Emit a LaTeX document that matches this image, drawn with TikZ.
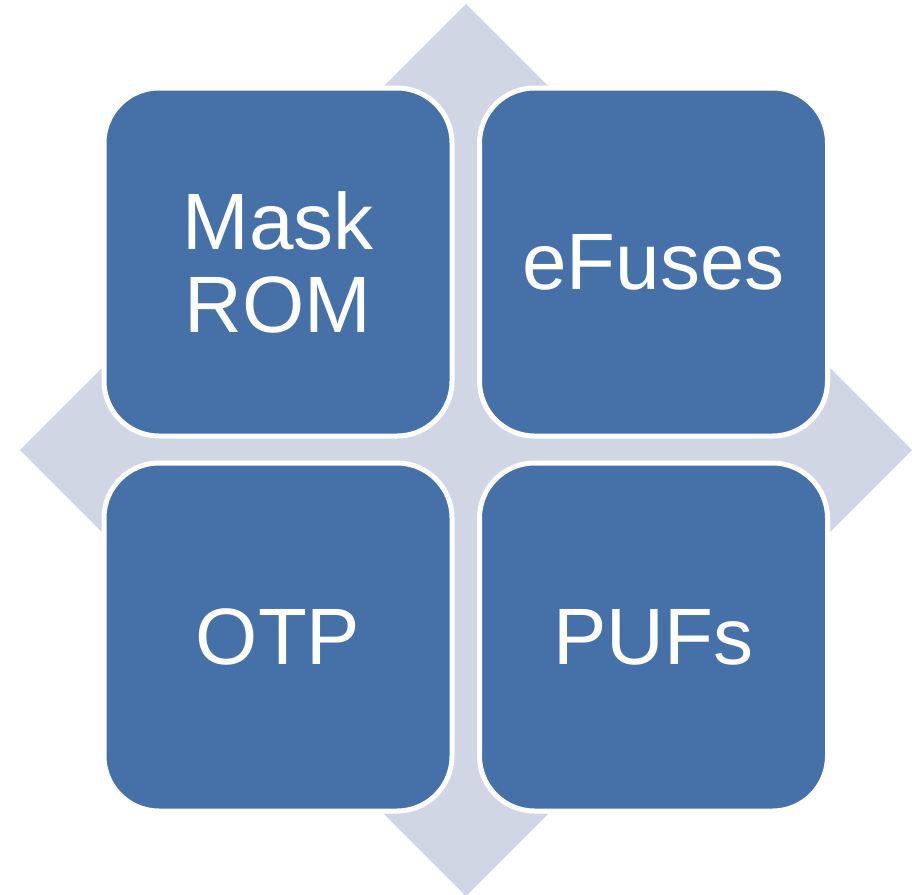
\documentclass[tikz,border=0pt]{standalone}
\usepackage{fontspec}
\setmainfont{Liberation Sans}
\definecolor{boxblue}{RGB}{69,113,168}
\definecolor{backgrey}{RGB}{208,214,228}

\begin{document}
\begin{tikzpicture}[x=1pt,y=-1pt,
	tile/.style={rectangle,rounded corners=55pt,fill=boxblue,draw=white,line width=5pt,
		minimum width=348pt,minimum height=348pt,inner sep=0pt,
		text=white,align=center,font=\fontsize{80}{83}\selectfont}]
	\useasboundingbox (0,0) rectangle (912,894);
	%background diamond
	\coordinate (top) at (466,4);
	\coordinate (right) at (912,450);
	\coordinate (bottom) at (466,896);
	\coordinate (left) at (20,450);
	\fill[backgrey] (top)--(right)--(bottom)--(left)--cycle;
	
	%tiles
	\node[tile] (mask) at (278,262) {Mask\\ROM};
	\node[tile] (efuses) at (653.5,262) {eFuses};
	\node[tile] (otp) at (278,637) {OTP};
	\node[tile] (pufs) at (653.5,637) {PUFs};
\end{tikzpicture}
\end{document}
